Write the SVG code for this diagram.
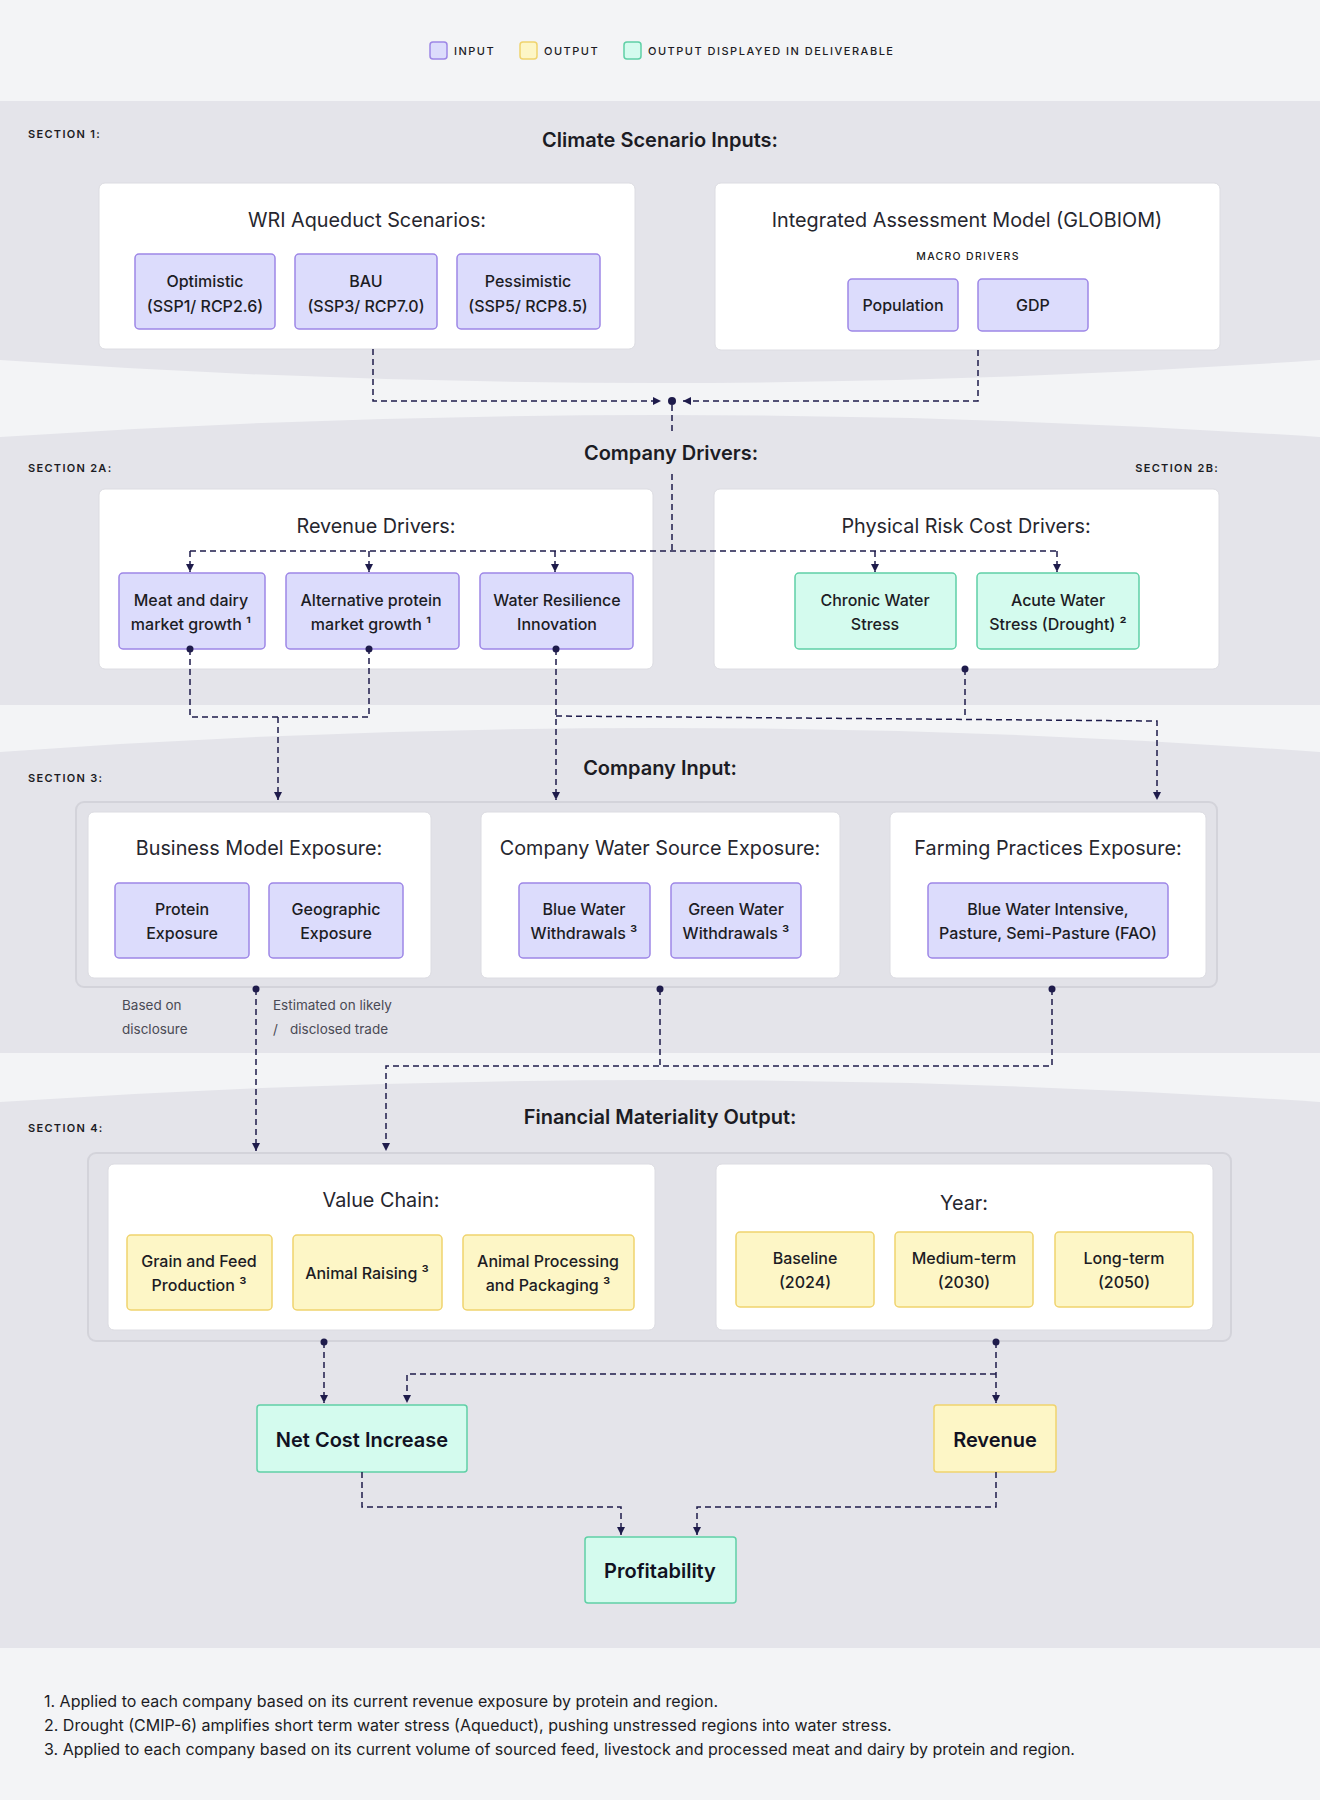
<svg xmlns="http://www.w3.org/2000/svg" width="1320" height="1800" viewBox="0 0 1320 1800">
<defs>
<style>
.bg{fill:#f3f4f6}
.band{fill:#e4e4ea}
.outer{fill:#e2e2e8;stroke:#d3d3da;stroke-width:2}
.card{fill:#ffffff;stroke:#dcdce2;stroke-width:1}
.in{fill:#dcdcfc;stroke:#9d86e6;stroke-width:1.5}
.out{fill:#fdf6c6;stroke:#f0d36e;stroke-width:1.5}
.del{fill:#d4fbee;stroke:#5fd0a6;stroke-width:1.5}
text{font-family:Inter,"Noto Sans","Liberation Sans",sans-serif;fill:#1c1c24}
.leg{font-size:11px;font-weight:500;letter-spacing:1.5px}
.sec{font-size:11px;font-weight:600;letter-spacing:1.3px}
.stitle{font-size:20px;font-weight:600;text-anchor:middle}
.btitle{font-size:19.8px;font-weight:400;text-anchor:middle;fill:#26262e}
.small{font-size:10.5px;font-weight:500;letter-spacing:1.3px;text-anchor:middle}
.nt{font-size:16px;font-weight:500;text-anchor:middle}
.big{font-size:20px;font-weight:600;text-anchor:middle;fill:#111122}
.note{font-size:13.5px;fill:#4a4a55}
.foot{font-size:16px;fill:#1c1c24}
.conn{fill:none;stroke:#1e1b4b;stroke-width:1.5;stroke-dasharray:6 4}
.dot{fill:#1e1b4b}
</style>
<marker id="arr" viewBox="0 0 8 8" refX="8" refY="4" markerWidth="8" markerHeight="8" markerUnits="userSpaceOnUse" orient="auto">
<path d="M0,0 L8,4 L0,8 z" fill="#1e1b4b"/>
</marker>
</defs>

<rect class="bg" x="0" y="0" width="1320" height="1800"/>
<path class="band" d="M0,101 H1320 V360 Q660,406 0,360 Z"/>
<path class="band" d="M0,437 Q660,393 1320,437 V705 H0 Z"/>
<path class="band" d="M0,752 Q660,704 1320,752 V1053 H0 Z"/>
<path class="band" d="M0,1102 Q660,1058 1320,1102 V1648 H0 Z"/>

<g id="legend">
<rect class="in" x="430" y="42" width="17" height="17" rx="3"/>
<text class="leg" x="454" y="55">INPUT</text>
<rect class="out" x="520" y="42" width="17" height="17" rx="3"/>
<text class="leg" x="544" y="55">OUTPUT</text>
<rect class="del" x="624" y="42" width="17" height="17" rx="3"/>
<text class="leg" x="648" y="55">OUTPUT DISPLAYED IN DELIVERABLE</text>
</g>

<g id="section-labels">
<text class="sec" x="28" y="138">SECTION 1:</text>
<text class="sec" x="28" y="472">SECTION 2A:</text>
<text class="sec" x="1219" y="472" text-anchor="end">SECTION 2B:</text>
<text class="sec" x="28" y="782">SECTION 3:</text>
<text class="sec" x="28" y="1132">SECTION 4:</text>
<text class="stitle" x="660" y="147">Climate Scenario Inputs:</text>
<text class="stitle" x="671" y="460">Company Drivers:</text>
<text class="stitle" x="660" y="775">Company Input:</text>
<text class="stitle" x="660" y="1124">Financial Materiality Output:</text>
</g>

<g id="wri">
<rect class="card" x="99" y="183" width="536" height="166" rx="6"/>
<text class="btitle" x="367" y="227">WRI Aqueduct Scenarios:</text>
</g>
<g id="optimistic">
<rect class="in" x="135" y="254" width="140" height="75" rx="4"/>
<text class="nt" x="205" y="287">Optimistic</text>
<text class="nt" x="205" y="312">(SSP1/ RCP2.6)</text>
</g>
<g id="bau">
<rect class="in" x="295" y="254" width="142" height="75" rx="4"/>
<text class="nt" x="366" y="287">BAU</text>
<text class="nt" x="366" y="312">(SSP3/ RCP7.0)</text>
</g>
<g id="pessimistic">
<rect class="in" x="457" y="254" width="143" height="75" rx="4"/>
<text class="nt" x="528" y="287">Pessimistic</text>
<text class="nt" x="528" y="312">(SSP5/ RCP8.5)</text>
</g>

<g id="globiom">
<rect class="card" x="715" y="183" width="505" height="167" rx="6"/>
<text class="btitle" x="967" y="227">Integrated Assessment Model (GLOBIOM)</text>
<text class="small" x="968" y="260">MACRO DRIVERS</text>
</g>
<g id="population">
<rect class="in" x="848" y="279" width="110" height="52" rx="4"/>
<text class="nt" x="903" y="311">Population</text>
</g>
<g id="gdp">
<rect class="in" x="978" y="279" width="110" height="52" rx="4"/>
<text class="nt" x="1033" y="311">GDP</text>
</g>

<g id="revenue-drivers">
<rect class="card" x="99" y="489" width="554" height="180" rx="6"/>
<text class="btitle" x="376" y="533">Revenue Drivers:</text>
</g>
<g id="physical-risk">
<rect class="card" x="714" y="489" width="505" height="180" rx="6"/>
<text class="btitle" x="966" y="533">Physical Risk Cost Drivers:</text>
</g>
<g id="meat-dairy">
<rect class="in" x="119" y="573" width="146" height="76" rx="4"/>
<text class="nt" x="191" y="606">Meat and dairy</text>
<text class="nt" x="191" y="630">market growth ¹</text>
</g>
<g id="alt-protein">
<rect class="in" x="286" y="573" width="173" height="76" rx="4"/>
<text class="nt" x="371" y="606">Alternative protein</text>
<text class="nt" x="371" y="630">market growth ¹</text>
</g>
<g id="water-resilience">
<rect class="in" x="480" y="573" width="153" height="76" rx="4"/>
<text class="nt" x="557" y="606">Water Resilience</text>
<text class="nt" x="557" y="630">Innovation</text>
</g>
<g id="chronic">
<rect class="del" x="795" y="573" width="161" height="76" rx="4"/>
<text class="nt" x="875" y="606">Chronic Water</text>
<text class="nt" x="875" y="630">Stress</text>
</g>
<g id="acute">
<rect class="del" x="977" y="573" width="162" height="76" rx="4"/>
<text class="nt" x="1058" y="606">Acute Water</text>
<text class="nt" x="1058" y="630">Stress (Drought) ²</text>
</g>

<g id="company-input">
<rect class="outer" x="76" y="802" width="1141" height="185" rx="8"/>
</g>
<g id="business-model">
<rect class="card" x="88" y="812" width="343" height="166" rx="6"/>
<text class="btitle" x="259" y="855">Business Model Exposure:</text>
</g>
<g id="water-source">
<rect class="card" x="481" y="812" width="359" height="166" rx="6"/>
<text class="btitle" x="660" y="855">Company Water Source Exposure:</text>
</g>
<g id="farming">
<rect class="card" x="890" y="812" width="316" height="166" rx="6"/>
<text class="btitle" x="1048" y="855">Farming Practices Exposure:</text>
</g>
<g id="protein">
<rect class="in" x="115" y="883" width="134" height="75" rx="4"/>
<text class="nt" x="182" y="915">Protein</text>
<text class="nt" x="182" y="939">Exposure</text>
</g>
<g id="geographic">
<rect class="in" x="269" y="883" width="134" height="75" rx="4"/>
<text class="nt" x="336" y="915">Geographic</text>
<text class="nt" x="336" y="939">Exposure</text>
</g>
<g id="blue-water">
<rect class="in" x="519" y="883" width="131" height="75" rx="4"/>
<text class="nt" x="584" y="915">Blue Water</text>
<text class="nt" x="584" y="939">Withdrawals ³</text>
</g>
<g id="green-water">
<rect class="in" x="671" y="883" width="130" height="75" rx="4"/>
<text class="nt" x="736" y="915">Green Water</text>
<text class="nt" x="736" y="939">Withdrawals ³</text>
</g>
<g id="blue-intensive">
<rect class="in" x="928" y="883" width="240" height="75" rx="4"/>
<text class="nt" x="1048" y="915">Blue Water Intensive,</text>
<text class="nt" x="1048" y="939">Pasture, Semi-Pasture (FAO)</text>
</g>
<g id="notes">
<text class="note" x="122" y="1010">Based on</text>
<text class="note" x="122" y="1034">disclosure</text>
<text class="note" x="273" y="1010">Estimated on likely</text>
<text class="note" x="273" y="1034">/</text>
<text class="note" x="290" y="1034">disclosed trade</text>
</g>

<g id="financial-output">
<rect class="outer" x="88" y="1153" width="1143" height="188" rx="8"/>
</g>
<g id="value-chain">
<rect class="card" x="108" y="1164" width="547" height="166" rx="6"/>
<text class="btitle" x="381" y="1207">Value Chain:</text>
</g>
<g id="year">
<rect class="card" x="716" y="1164" width="497" height="166" rx="6"/>
<text class="btitle" x="964" y="1210">Year:</text>
</g>
<g id="grain-feed">
<rect class="out" x="127" y="1235" width="145" height="75" rx="4"/>
<text class="nt" x="199" y="1267">Grain and Feed</text>
<text class="nt" x="199" y="1291">Production ³</text>
</g>
<g id="animal-raising">
<rect class="out" x="293" y="1235" width="149" height="75" rx="4"/>
<text class="nt" x="367" y="1279">Animal Raising ³</text>
</g>
<g id="animal-processing">
<rect class="out" x="463" y="1235" width="171" height="75" rx="4"/>
<text class="nt" x="548" y="1267">Animal Processing</text>
<text class="nt" x="548" y="1291">and Packaging ³</text>
</g>
<g id="baseline">
<rect class="out" x="736" y="1232" width="138" height="75" rx="4"/>
<text class="nt" x="805" y="1264">Baseline</text>
<text class="nt" x="805" y="1288">(2024)</text>
</g>
<g id="medium-term">
<rect class="out" x="895" y="1232" width="138" height="75" rx="4"/>
<text class="nt" x="964" y="1264">Medium-term</text>
<text class="nt" x="964" y="1288">(2030)</text>
</g>
<g id="long-term">
<rect class="out" x="1055" y="1232" width="138" height="75" rx="4"/>
<text class="nt" x="1124" y="1264">Long-term</text>
<text class="nt" x="1124" y="1288">(2050)</text>
</g>

<g id="net-cost">
<rect class="del" x="257" y="1405" width="210" height="67" rx="3"/>
<text class="big" x="362" y="1447">Net Cost Increase</text>
</g>
<g id="revenue">
<rect class="out" x="934" y="1405" width="122" height="67" rx="3"/>
<text class="big" x="995" y="1447">Revenue</text>
</g>
<g id="profitability">
<rect class="del" x="585" y="1537" width="151" height="66" rx="3"/>
<text class="big" x="660" y="1578">Profitability</text>
</g>

<g id="connectors">
<path class="conn" d="M373,349 V401 H661" marker-end="url(#arr)"/>
<path class="conn" d="M978,350 V401 H683" marker-end="url(#arr)"/>
<circle class="dot" cx="672" cy="401" r="4"/>
<path class="conn" d="M672,405 V432"/>
<path class="conn" d="M672,474 V551"/>
<path class="conn" d="M190,551 H1057"/>
<path class="conn" d="M190,551 V572" marker-end="url(#arr)"/>
<path class="conn" d="M369,551 V572" marker-end="url(#arr)"/>
<path class="conn" d="M555,551 V572" marker-end="url(#arr)"/>
<path class="conn" d="M875,551 V572" marker-end="url(#arr)"/>
<path class="conn" d="M1057,551 V572" marker-end="url(#arr)"/>

<path class="conn" d="M190,649 V717 H369 V649"/>
<path class="conn" d="M278,717 V800" marker-end="url(#arr)"/>
<path class="conn" d="M556,649 V800" marker-end="url(#arr)"/>
<path class="conn" d="M556,716 L1157,721 V800" marker-end="url(#arr)"/>
<path class="conn" d="M965,669 V718"/>
<circle class="dot" cx="190" cy="649" r="3.5"/>
<circle class="dot" cx="369" cy="649" r="3.5"/>
<circle class="dot" cx="556" cy="649" r="3.5"/>
<circle class="dot" cx="965" cy="669" r="3.5"/>

<path class="conn" d="M256,989 V1151" marker-end="url(#arr)"/>
<path class="conn" d="M660,989 V1066"/>
<path class="conn" d="M1052,989 V1066 H386 V1151" marker-end="url(#arr)"/>
<circle class="dot" cx="256" cy="989" r="3.5"/>
<circle class="dot" cx="660" cy="989" r="3.5"/>
<circle class="dot" cx="1052" cy="989" r="3.5"/>

<path class="conn" d="M324,1342 V1403" marker-end="url(#arr)"/>
<path class="conn" d="M996,1342 V1403" marker-end="url(#arr)"/>
<path class="conn" d="M996,1374 H407 V1403" marker-end="url(#arr)"/>
<circle class="dot" cx="324" cy="1342" r="3.5"/>
<circle class="dot" cx="996" cy="1342" r="3.5"/>

<path class="conn" d="M362,1472 V1507 H621 V1535" marker-end="url(#arr)"/>
<path class="conn" d="M996,1472 V1507 H697 V1535" marker-end="url(#arr)"/>
</g>

<g id="footnotes">
<text class="foot" x="44" y="1707">1. Applied to each company based on its current revenue exposure by protein and region.</text>
<text class="foot" x="44" y="1731">2. Drought (CMIP-6) amplifies short term water stress (Aqueduct), pushing unstressed regions into water stress.</text>
<text class="foot" x="44" y="1755">3. Applied to each company based on its current volume of sourced feed, livestock and processed meat and dairy by protein and region.</text>
</g>
</svg>
